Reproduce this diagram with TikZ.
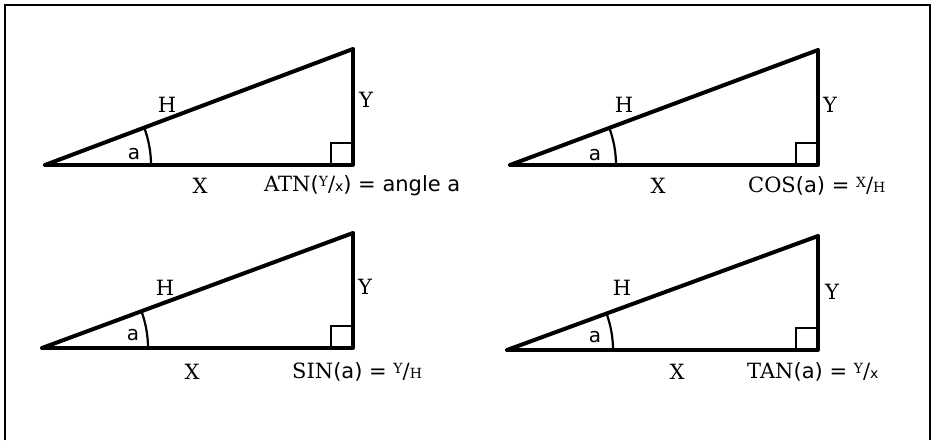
\documentclass[tikz,border=0pt]{standalone}
\usepackage{fontspec}
\setmainfont{DejaVu Serif}
\newfontfamily\lowfont{DejaVu Sans}
\usetikzlibrary{calc}
\newcommand\frc[2]{\raisebox{0.45ex}{\fontsize{14}{14}\selectfont #1}/{\fontsize{14}{14}\selectfont #2}}
\tikzset{
  tri/.style={line width=3.3pt, line join=round},
  hyp/.style={line width=4pt, line cap=round},
  arcline/.style={line width=2.2pt},
  sq/.style={line width=2.2pt},
  frame/.style={line width=2.2pt},
  lbl/.style={inner sep=0pt, font=\fontsize{21}{21}\selectfont},
  lowl/.style={inner sep=0pt, font=\fontsize{20}{20}\selectfont\lowfont},
  eq/.style={inner sep=0pt, anchor=west, font=\fontsize{21}{21}\selectfont}
}
\begin{document}
\begin{tikzpicture}[x=1pt,y=1pt]
\useasboundingbox (0,0) rectangle (937,440);
\draw[frame] (5,0) -- (5,435) -- (930,435) -- (930,0);
% triangle corners
\coordinate (A1) at (45,275);  \coordinate (B1) at (353,275); \coordinate (C1) at (353,391);
\coordinate (A2) at (510,275); \coordinate (B2) at (818,275); \coordinate (C2) at (818,390);
\coordinate (A3) at (42,92);   \coordinate (B3) at (353,92);  \coordinate (C3) at (353,207);
\coordinate (A4) at (507,90);  \coordinate (B4) at (818,90);  \coordinate (C4) at (818,204);
\foreach \i in {1,2,3,4}{
  \draw[tri] (A\i) -- (B\i) -- (C\i);
  \draw[hyp] (A\i) -- (C\i);
  \draw[sq] ($(B\i)+(-22,0)$) -- ++(0,22) -- ++(22,0);
  \draw[arcline] let \p1=($(C\i)-(A\i)$), \n1={atan2(\y1,\x1)} in
    ($(A\i)+(106,0)$) arc[start angle=0, end angle=\n1, radius=106];
}
% labels triangle 1
\node[lbl] (H1) at (167,335) {H};
\node[lbl] (Y1) at (366,340) {Y};
\node[lowl] (a1) at (134,286) {a};
\node[lbl] (X1) at (200,254) {X};
\node[eq] (F1) at (264,254) {ATN{\lowfont(}\frc{Y}{\lowfont x}{\lowfont)} {\lowfont = angle a}};
% triangle 2
\node[lbl] (H2) at (624,335) {H};
\node[lbl] (Y2) at (830,335) {Y};
\node[lowl] (a2) at (595,285) {a};
\node[lbl] (X2) at (658,254) {X};
\node[eq] (F2) at (748,254) {COS{\lowfont(a) =} \frc{X}{H}};
% triangle 3
\node[lbl] (H3) at (165,152) {H};
\node[lbl] (Y3) at (365,153) {Y};
\node[lowl] (a3) at (133,105) {a};
\node[lbl] (X3) at (192,68) {X};
\node[eq] (F3) at (292,68) {SIN{\lowfont(a) =} \frc{Y}{H}};
% triangle 4
\node[lbl] (H4) at (622,152) {H};
\node[lbl] (Y4) at (832,148) {Y};
\node[lowl] (a4) at (595,103) {a};
\node[lbl] (X4) at (677,68) {X};
\node[eq] (F4) at (747,68) {TAN{\lowfont(a) =} \frc{Y}{\lowfont x}};
\end{tikzpicture}
\end{document}
